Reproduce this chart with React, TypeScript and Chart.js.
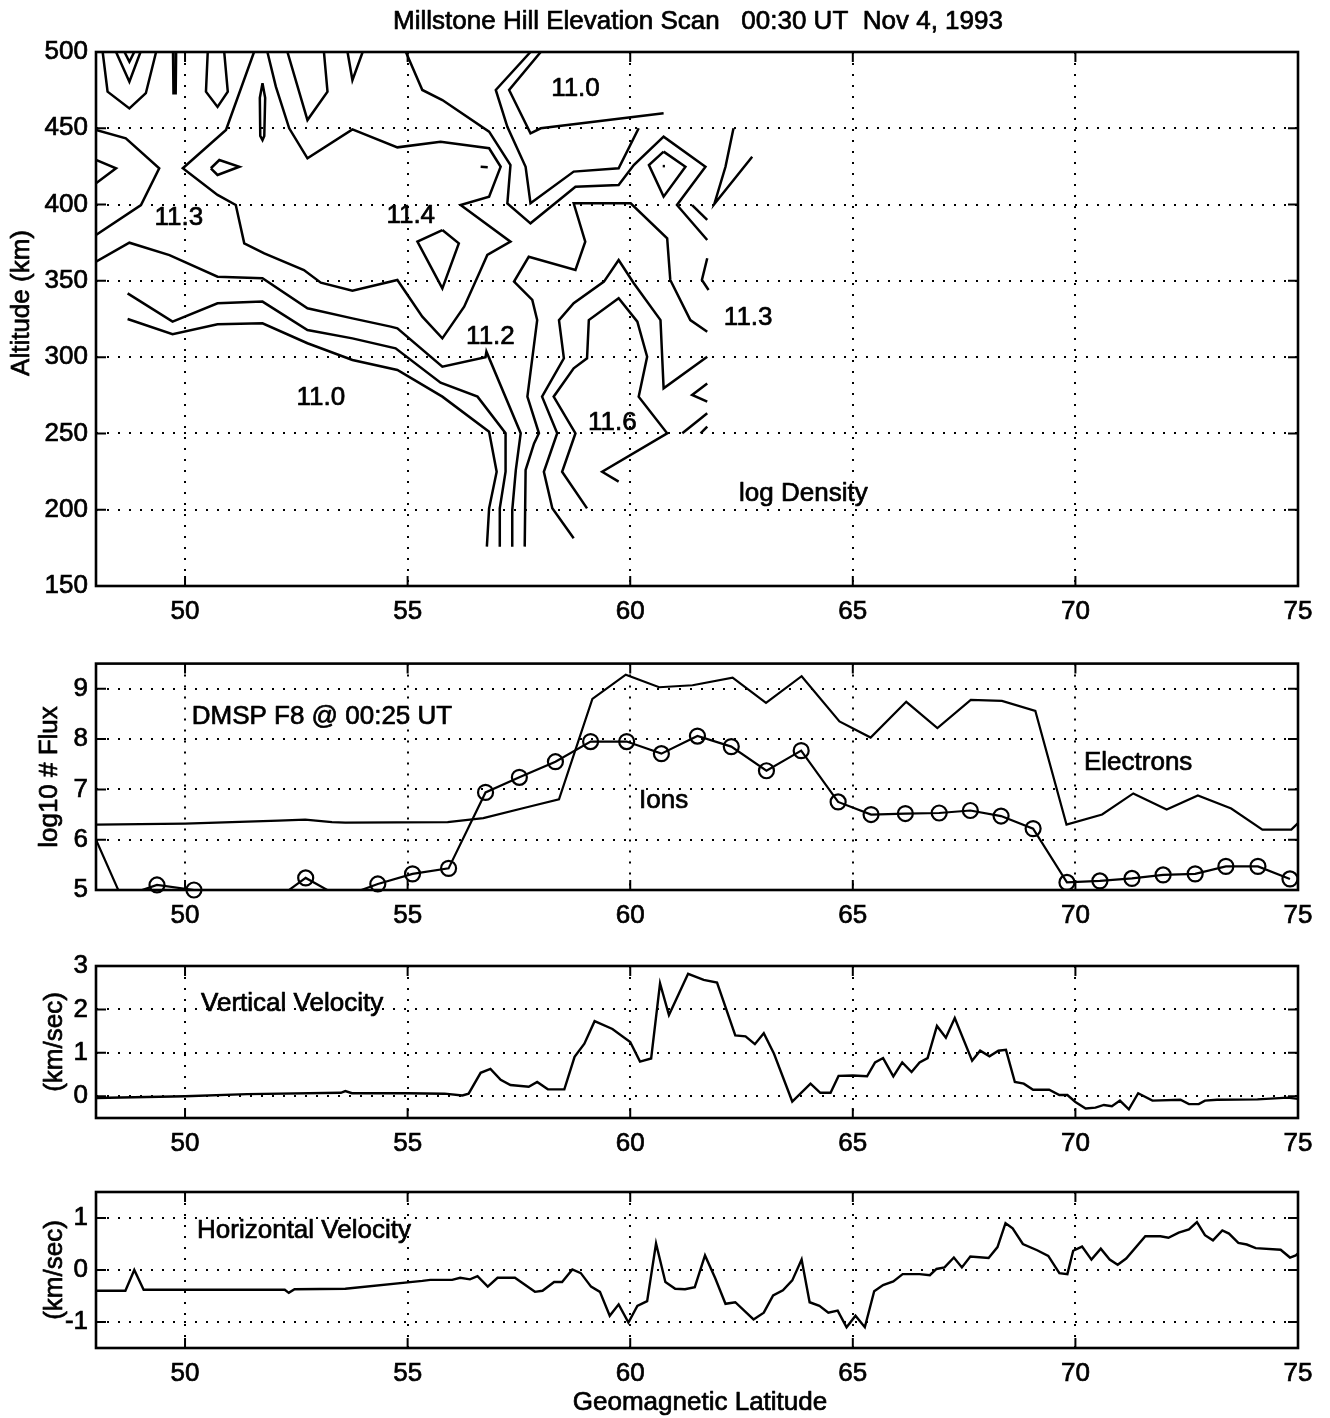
import React, { useEffect, useRef } from "react";
import { Chart, registerables } from "chart.js";

Chart.register(...registerables);

type Pt = [number, number];

// ---------- axes ----------
const LAT_MIN = 48;
const LAT_MAX = 75;
const LAT_TICKS = [50, 55, 60, 65, 70, 75];
const ALT_TICKS = [150, 200, 250, 300, 350, 400, 450, 500];
const FLUX_TICKS = [5, 6, 7, 8, 9];
const VV_TICKS = [0, 1, 2, 3];
const HV_TICKS = [-1, 0, 1];

// ---------- log density contour lines (latitude, altitude km) ----------
const cTopV1: Pt[] = [[48.15, 500], [48.26, 474], [48.75, 463], [49.12, 473], [49.35, 500]];
const cTopV2: Pt[] = [[48.45, 500], [48.75, 480.5], [49.0, 500]];
const cTopV3: Pt[] = [[48.64, 500], [48.75, 493.6], [48.86, 500]];
const cSpike: Pt[] = [[49.73, 500], [49.74, 473], [49.79, 473], [49.8, 500]];
const cTopV4: Pt[] = [[50.51, 500], [50.47, 474], [50.73, 464], [50.96, 474], [50.88, 500]];
const cTopV5: Pt[] = [[52.3, 500], [52.75, 455.4], [53.2, 474.0], [53.12, 500]];
const cTopV6: Pt[] = [[53.65, 500], [53.76, 481.6], [53.99, 500]];
const cThinLoop: Pt[] = [[51.74, 479.5], [51.8, 470], [51.78, 445], [51.74, 442.3], [51.69, 445], [51.68, 470], [51.74, 479.5]];
const cLeftEdge: Pt[] = [[48.0, 448.9], [48.67, 443.4], [49.42, 423.8], [49.01, 399.7], [48.0, 380.1]];
const cLeftNotch: Pt[] = [[48.0, 429.2], [48.45, 423.8], [48.0, 413.9]];
const cDiamondA: Pt[] = [[50.58, 423.8], [50.77, 429.2], [51.22, 424.8], [50.73, 419.4], [50.58, 423.8]];
const cX: Pt[] = [
  [51.55, 500], [50.92, 448.9], [49.95, 423.8], [50.73, 406.3], [51.14, 399.7], [51.33, 374.6],
  [51.78, 368.0], [52.67, 357.1], [53.05, 348.8], [53.76, 343.6], [54.77, 350.6], [55.33, 326.5],
  [55.78, 312.3], [56.27, 333.1], [56.64, 357.1], [56.79, 367.0], [57.31, 375.7], [56.19, 399.7],
  [56.83, 405.2], [57.09, 424.8], [56.83, 436.9], [55.74, 441.2], [54.77, 437.5], [53.76, 449.3],
  [52.75, 430.3], [52.34, 450.0], [52.04, 477.3], [51.85, 500],
];
const cY: Pt[] = [
  [48.0, 362.6], [48.75, 375.0], [49.65, 366.9], [50.73, 352.7], [51.74, 351.7], [52.75, 332.0],
  [53.76, 325.4], [54.62, 320.0], [54.77, 318.9], [55.78, 293.7], [56.75, 299.9], [56.77, 303.6],
  [57.54, 250.1], [57.43, 226.0], [57.35, 199.8], [57.35, 175.8],
];
const cZ: Pt[] = [
  [48.71, 341.8], [49.72, 323.3], [50.73, 335.3], [51.74, 336.4], [52.75, 317.8], [53.76, 312.3],
  [54.73, 305.8], [55.74, 283.3], [56.57, 274.1], [57.2, 250.1], [57.2, 224.9], [57.07, 200.9], [57.07, 175.8],
];
const cW: Pt[] = [
  [48.71, 325.0], [49.72, 315.0], [50.73, 321.5], [51.74, 322.2], [52.75, 309.1], [53.76, 298.1],
  [54.77, 291.6], [55.78, 274.1], [56.83, 251.1], [57.0, 224.9], [56.83, 200.9], [56.78, 175.8],
];
const cV: Pt[] = [
  [57.63, 175.8], [57.65, 226.0], [57.84, 243.5], [57.95, 250.1], [57.69, 274.1], [57.91, 324.3],
  [57.8, 337.5], [57.39, 349.5], [57.72, 365.8], [58.77, 357.1], [58.99, 375.7], [58.73, 400.8],
  [60.01, 400.8], [60.83, 377.9], [60.9, 350.6], [61.35, 324.3], [61.73, 316.7],
];
const cU: Pt[] = [
  [58.73, 181.3], [58.25, 200.9], [58.06, 224.9], [58.36, 250.1], [58.02, 274.1], [58.51, 299.2],
  [58.4, 324.3], [58.73, 335.3], [59.41, 349.5], [59.74, 363.7], [60.08, 348.4], [60.68, 324.3],
  [60.75, 279.6], [61.73, 300.3],
];
const cT: Pt[] = [
  [59.03, 200.9], [58.47, 224.9], [58.77, 250.1], [58.28, 274.1], [58.73, 292.7], [59.03, 299.2],
  [59.07, 324.3], [59.74, 338.6], [60.16, 323.3], [60.38, 300.3], [60.19, 274.1], [60.83, 250.1],
  [59.37, 224.9], [59.74, 218.4],
];
const cB: Pt[] = [
  [54.96, 500], [55.33, 475.1], [55.78, 468.5], [56.83, 447.8], [57.31, 425.9], [57.24, 400.8],
  [57.76, 387.7], [58.77, 411.7], [59.74, 412.8], [60.08, 425.9], [60.75, 444.5], [61.69, 424.8],
  [61.05, 399.7], [61.73, 376.8],
];
const cC: Pt[] = [
  [57.76, 500], [56.98, 475.1], [57.24, 451.0], [57.65, 424.8], [57.76, 400.8], [58.73, 421.6],
  [59.74, 423.8], [60.19, 450.0],
];
const cD: Pt[] = [[57.99, 500], [57.28, 475.1], [57.76, 446.7], [57.99, 450.0], [60.75, 459.8]];
const cDiamondB: Pt[] = [[60.75, 434.7], [61.24, 424.8], [60.75, 405.2], [60.42, 425.9], [60.75, 434.7]];
const cDiamondC: Pt[] = [[55.78, 383.3], [56.15, 374.6], [55.78, 345.1], [55.22, 375.7], [55.78, 383.3]];
const cDot1: Pt[] = [[56.64, 424.8], [56.8, 424.5]];
const cDot2: Pt[] = [[60.73, 425.2], [60.78, 425.2]];
const cFrag1: Pt[] = [[62.32, 450.0], [62.14, 424.8], [61.89, 400.4], [62.74, 431.4]];
const cFrag2: Pt[] = [[61.39, 399.7], [61.73, 389.9]];
const cFrag3: Pt[] = [[61.73, 364.8], [61.61, 350.6], [61.76, 344.0]];
const cFrag4: Pt[] = [[61.73, 282.8], [61.39, 275.2], [61.73, 270.8]];
const cFrag5: Pt[] = [[61.73, 263.2], [61.17, 250.1]];
const cFrag6: Pt[] = [[61.73, 254.4], [61.58, 250.1]];

const CONTOURS: Pt[][] = [
  cTopV1, cTopV2, cTopV3, cSpike, cTopV4, cTopV5, cTopV6, cThinLoop, cLeftEdge, cLeftNotch,
  cDiamondA, cX, cY, cZ, cW, cV, cU, cT, cB, cC, cD, cDiamondB, cDiamondC, cDot1, cDot2,
  cFrag1, cFrag2, cFrag3, cFrag4, cFrag5, cFrag6,
];

const DENSITY_LABELS = ["11.0", "11.3", "11.4", "11.3", "11.2", "11.0", "11.6", "log Density"];
const DENSITY_LABEL_LAT = [58.77, 49.86, 55.07, 62.65, 56.86, 53.05, 59.6, 63.89];
const DENSITY_LABEL_ALT = [475.7, 391.2, 392.5, 325.7, 313.2, 273.2, 256.8, 210.3];

// ---------- DMSP F8 flux ----------
const ELEC_LAT = [
  48, 50, 52.1, 52.7, 53.3, 53.6, 55.9, 56.7, 57.7, 58.4, 59.15, 59.9, 60.65, 61.4, 62.3, 63.05,
  63.85, 64.7, 65.4, 66.2, 66.9, 67.65, 68.35, 69.1, 69.8, 70.6, 71.3, 72.05, 72.75, 73.5, 74.2, 74.85, 75,
];
const ELEC_VAL = [
  6.3, 6.32, 6.38, 6.4, 6.35, 6.34, 6.35, 6.43, 6.65, 6.8, 8.8, 9.28, 9.03, 9.07, 9.22, 8.72,
  9.25, 8.35, 8.03, 8.74, 8.22, 8.78, 8.76, 8.56, 6.3, 6.5, 6.92, 6.6, 6.88, 6.62, 6.2, 6.2, 6.33,
];
const ION_LAT = [
  47.77, 48.57, 49.37, 50.2, 51.04, 51.87, 52.71, 53.5, 54.33, 55.11, 55.92, 56.75, 57.51, 58.32,
  59.11, 59.92, 60.7, 61.51, 62.27, 63.06, 63.84, 64.67, 65.41, 66.18, 66.94, 67.64, 68.33, 69.05,
  69.81, 70.55, 71.27, 71.97, 72.69, 73.38, 74.1, 74.82,
];
const ION_VAL = [
  6.46, 4.86, 5.1, 5.0, 4.5, 4.7, 5.24, 4.85, 5.12, 5.32, 5.43, 6.94, 7.24, 7.55,
  7.95, 7.95, 7.71, 8.06, 7.85, 7.37, 7.77, 6.75, 6.5, 6.52, 6.53, 6.58, 6.47, 6.22,
  5.15, 5.18, 5.23, 5.3, 5.32, 5.47, 5.47, 5.22,
];

// ---------- vertical velocity (km/s) ----------
const VV_LAT = [
  48, 50, 51.4, 53.5, 53.6, 53.75, 55, 55.83, 56.23, 56.37, 56.64, 56.86, 57.09, 57.31, 57.72, 57.91,
  58.15, 58.52, 58.75, 58.97, 59.2, 59.6, 60, 60.22, 60.47, 60.67, 60.87, 61.3, 61.65, 61.95, 62.36,
  62.59, 62.8, 63, 63.23, 63.64, 64.05, 64.27, 64.5, 64.68, 65, 65.32, 65.5, 65.68, 65.91, 66.11,
  66.32, 66.5, 66.68, 66.89, 67.09, 67.29, 67.68, 67.86, 68.07, 68.27, 68.44, 68.64, 68.84, 69.05,
  69.41, 69.64, 69.82, 70, 70.23, 70.45, 70.64, 70.82, 71, 71.2, 71.41, 71.73, 72.36, 72.55, 72.77,
  72.91, 73.18, 74.09, 74.77, 75.09,
];
const VV_VAL = [
  -0.04, 0, 0.05, 0.08, 0.12, 0.07, 0.07, 0.06, 0.02, 0.06, 0.54, 0.63, 0.38, 0.26, 0.22, 0.33,
  0.16, 0.16, 0.91, 1.21, 1.73, 1.55, 1.25, 0.8, 0.87, 2.6, 1.87, 2.82, 2.68, 2.62, 1.4,
  1.38, 1.2, 1.45, 0.98, -0.12, 0.29, 0.08, 0.08, 0.47, 0.48, 0.46, 0.78, 0.88, 0.46, 0.78,
  0.56, 0.78, 0.88, 1.62, 1.35, 1.8, 0.82, 1.05, 0.92, 1.05, 1.07, 0.33, 0.29, 0.15,
  0.15, 0.03, 0.03, -0.13, -0.28, -0.26, -0.2, -0.23, -0.1, -0.3, 0.07, -0.1, -0.08, -0.18, -0.18,
  -0.1, -0.08, -0.07, -0.03, -0.07,
];

// ---------- horizontal velocity (km/s) ----------
const HV_LAT = [
  48, 48.66, 48.86, 49.07, 50, 52.24, 52.33, 52.46, 53.6, 55.33, 55.51, 56, 56.18, 56.4, 56.57, 56.8,
  57.02, 57.41, 57.86, 58.03, 58.29, 58.47, 58.7, 58.89, 59.12, 59.32, 59.54, 59.74, 59.96, 60.16,
  60.38, 60.58, 60.79, 61.01, 61.23, 61.45, 61.68, 61.91, 62.14, 62.36, 62.77, 63, 63.21, 63.43,
  63.64, 63.85, 64.03, 64.25, 64.45, 64.66, 64.86, 65.06, 65.27, 65.48, 65.68, 65.91, 66.12, 66.5,
  66.73, 66.88, 67.06, 67.27, 67.45, 67.64, 68.05, 68.25, 68.43, 68.59, 68.82, 69.14, 69.39, 69.64,
  69.82, 69.95, 70.15, 70.36, 70.57, 70.77, 70.95, 71.14, 71.57, 71.91, 72.09, 72.32, 72.55, 72.73,
  72.91, 73.09, 73.3, 73.45, 73.66, 73.85, 74.05, 74.61, 74.82, 74.95, 75.09,
];
const HV_VAL = [
  -0.4, -0.4, 0, -0.38, -0.38, -0.38, -0.44, -0.37, -0.36, -0.21, -0.19, -0.19, -0.15, -0.18, -0.12, -0.32,
  -0.15, -0.15, -0.42, -0.4, -0.23, -0.23, 0.01, -0.06, -0.32, -0.42, -0.88, -0.66, -1.01, -0.69,
  -0.6, 0.51, -0.23, -0.36, -0.37, -0.33, 0.28, -0.16, -0.65, -0.62, -0.95, -0.82, -0.49, -0.39,
  -0.2, 0.2, -0.62, -0.69, -0.82, -0.78, -1.1, -0.88, -1.1, -0.41, -0.29, -0.22, -0.08, -0.08,
  -0.1, 0.02, 0.05, 0.24, 0.05, 0.26, 0.23, 0.44, 0.9, 0.8, 0.5, 0.38, 0.27, -0.06,
  -0.08, 0.37, 0.45, 0.2, 0.41, 0.2, 0.1, 0.22, 0.65, 0.65, 0.62, 0.72, 0.78, 0.92,
  0.67, 0.57, 0.76, 0.7, 0.52, 0.49, 0.42, 0.39, 0.24, 0.28, 0.39,
];

// ---------- layout ----------
const W = 1330;
const PLOT_LEFT = 96;
const PLOT_RIGHT = 1298;
const FONT = "'Liberation Sans', Arial, Helvetica, sans-serif";
const TEXT_SIZE = 26;
const TEXT_STROKE = 0.7;

interface Txt {
  text: string;
  x: number;
  y: number;
  data?: boolean;
  align?: CanvasTextAlign;
  rotate?: boolean;
  size?: number;
}

function overlay(items: Txt[], cTop: number) {
  return {
    id: "overlay",
    afterDatasetsDraw(chart: any) {
      const { ctx, chartArea: a, scales } = chart;
      const xs = scales.x;
      const ys = scales.y;
      ctx.save();
      ctx.strokeStyle = "#000";
      ctx.setLineDash([]);
      ctx.lineWidth = 2;
      ctx.beginPath();
      for (const t of xs.ticks) {
        const p = xs.getPixelForValue(t.value);
        ctx.moveTo(p, a.bottom);
        ctx.lineTo(p, a.bottom - 10);
        ctx.moveTo(p, a.top);
        ctx.lineTo(p, a.top + 10);
      }
      for (const t of ys.ticks) {
        const p = ys.getPixelForValue(t.value);
        ctx.moveTo(a.left, p);
        ctx.lineTo(a.left + 10, p);
        ctx.moveTo(a.right, p);
        ctx.lineTo(a.right - 10, p);
      }
      ctx.stroke();
      ctx.lineWidth = 2.6;
      ctx.strokeRect(a.left, a.top, a.right - a.left, a.bottom - a.top);
      ctx.fillStyle = "#000";
      ctx.lineWidth = TEXT_STROKE;
      ctx.lineJoin = "round";
      for (const it of items) {
        const px = it.data ? xs.getPixelForValue(it.x) : it.x;
        const py = it.data ? ys.getPixelForValue(it.y) : it.y - cTop;
        ctx.font = `${it.size ?? TEXT_SIZE}px ${FONT}`;
        ctx.textAlign = it.align ?? "center";
        ctx.textBaseline = "middle";
        if (it.rotate) {
          ctx.save();
          ctx.translate(px, py);
          ctx.rotate(-Math.PI / 2);
          ctx.fillText(it.text, 0, 0);
          ctx.strokeText(it.text, 0, 0);
          ctx.restore();
        } else {
          ctx.fillText(it.text, px, py);
          ctx.strokeText(it.text, px, py);
        }
      }
      ctx.restore();
    },
  };
}

function lineDs(data: Pt[], width = 2.4) {
  return {
    data: data.map(([x, y]) => ({ x, y })),
    showLine: true,
    borderColor: "#000",
    backgroundColor: "#000",
    borderWidth: width,
    pointRadius: 0,
    tension: 0,
    fill: false,
  };
}

function zip(xs: number[], ys: number[]): Pt[] {
  return xs.map((x, i) => [x, ys[i]] as Pt);
}

interface Spec {
  cTop: number;
  cH: number;
  pTop: number;
  pBottom: number;
  yMin: number;
  yMax: number;
  yTicks: number[];
  datasets: any[];
  texts: Txt[];
}

function makeChart(canvas: HTMLCanvasElement, s: Spec) {
  const gridOpts = { color: "#000", lineWidth: 2, drawTicks: false };
  const borderOpts = { display: false, dash: [2, 9] };
  const tickFont = { family: FONT, size: TEXT_SIZE };
  const tickBase = {
    color: "#000",
    font: tickFont,
    textStrokeColor: "#000",
    textStrokeWidth: TEXT_STROKE,
    autoSkip: false,
  };
  return new Chart(canvas, {
    type: "scatter",
    data: { datasets: s.datasets },
    options: {
      animation: false,
      responsive: false,
      devicePixelRatio: 1,
      events: [],
      layout: { padding: { left: 0, right: W - PLOT_RIGHT, top: s.pTop - s.cTop, bottom: 0 } },
      plugins: { legend: { display: false }, tooltip: { enabled: false }, title: { display: false } },
      scales: {
        x: {
          type: "linear",
          min: LAT_MIN,
          max: LAT_MAX,
          afterBuildTicks: (sc: any) => {
            sc.ticks = LAT_TICKS.map((v) => ({ value: v }));
          },
          afterFit: (sc: any) => {
            sc.height = s.cH - (s.pBottom - s.cTop);
          },
          grid: gridOpts,
          border: borderOpts,
          ticks: { ...tickBase, padding: 10, maxRotation: 0 },
        },
        y: {
          type: "linear",
          min: s.yMin,
          max: s.yMax,
          afterBuildTicks: (sc: any) => {
            sc.ticks = s.yTicks.map((v) => ({ value: v }));
          },
          afterFit: (sc: any) => {
            sc.width = PLOT_LEFT;
          },
          grid: gridOpts,
          border: borderOpts,
          ticks: { ...tickBase, padding: 8 },
        },
      },
    } as any,
    plugins: [overlay(s.texts, s.cTop) as any],
  });
}

const PANELS = [
  { cTop: 0, cH: 640, pTop: 52, pBottom: 586 },
  { cTop: 640, cH: 290, pTop: 661, pBottom: 890 },
  { cTop: 930, cH: 230, pTop: 966, pBottom: 1118 },
  { cTop: 1160, cH: 258, pTop: 1192, pBottom: 1348 },
];

export default function App() {
  const r0 = useRef<HTMLCanvasElement>(null);
  const r1 = useRef<HTMLCanvasElement>(null);
  const r2 = useRef<HTMLCanvasElement>(null);
  const r3 = useRef<HTMLCanvasElement>(null);

  useEffect(() => {
    const charts: Chart[] = [];

    const densityTexts: Txt[] = DENSITY_LABELS.map((t, i) => ({
      text: t,
      x: DENSITY_LABEL_LAT[i],
      y: DENSITY_LABEL_ALT[i],
      data: true,
    }));
    charts.push(
      makeChart(r0.current!, {
        ...PANELS[0],
        yMin: 150,
        yMax: 500,
        yTicks: ALT_TICKS,
        datasets: CONTOURS.map((c) => lineDs(c, 2.5)),
        texts: [
          { text: "Millstone Hill Elevation Scan   00:30 UT  Nov 4, 1993", x: 698, y: 22 },
          { text: "Altitude (km)", x: 22, y: 303, rotate: true },
          ...densityTexts,
        ],
      })
    );

    const ionPts = zip(ION_LAT, ION_VAL);
    charts.push(
      makeChart(r1.current!, {
        ...PANELS[1],
        yMin: 5,
        yMax: 9.5,
        yTicks: FLUX_TICKS,
        datasets: [
          { ...lineDs(zip(ELEC_LAT, ELEC_VAL), 2.2), clip: 0 },
          { ...lineDs(ionPts, 2.2), clip: 0 },
          {
            data: ionPts.map(([x, y]) => ({ x, y })),
            showLine: false,
            clip: false,
            pointStyle: "circle",
            pointRadius: ionPts.map(([x, y]) => (x < LAT_MIN || y < 4.97 ? 0 : 7.5)),
            pointBorderWidth: 2.2,
            pointBorderColor: "#000",
            pointBackgroundColor: "rgba(0,0,0,0)",
          },
        ],
        texts: [
          { text: "log10 # Flux", x: 50, y: 777, rotate: true },
          { text: "DMSP F8 @ 00:25 UT", x: 50.15, y: 8.45, data: true, align: "left" },
          { text: "Ions", x: 60.75, y: 6.78, data: true },
          { text: "Electrons", x: 71.41, y: 7.53, data: true },
        ],
      })
    );

    charts.push(
      makeChart(r2.current!, {
        ...PANELS[2],
        yMin: -0.5,
        yMax: 3,
        yTicks: VV_TICKS,
        datasets: [{ ...lineDs(zip(VV_LAT, VV_VAL), 2.4), clip: 0 }],
        texts: [
          { text: "(km/sec)", x: 55, y: 1042, rotate: true },
          { text: "Vertical Velocity", x: 50.36, y: 2.14, data: true, align: "left" },
        ],
      })
    );

    charts.push(
      makeChart(r3.current!, {
        ...PANELS[3],
        yMin: -1.5,
        yMax: 1.5,
        yTicks: HV_TICKS,
        datasets: [{ ...lineDs(zip(HV_LAT, HV_VAL), 2.4), clip: 0 }],
        texts: [
          { text: "(km/sec)", x: 55, y: 1270, rotate: true },
          { text: "Horizontal Velocity", x: 50.27, y: 0.75, data: true, align: "left" },
          { text: "Geomagnetic Latitude", x: 700, y: 1403 },
        ],
      })
    );

    return () => {
      charts.forEach((c) => c.destroy());
    };
  }, []);

  const refs = [r0, r1, r2, r3];
  return (
    <div style={{ position: "absolute", left: 0, top: 0, width: W, height: 1418, background: "#fff" }}>
      {PANELS.map((p, i) => (
        <canvas
          key={i}
          ref={refs[i]}
          width={W}
          height={p.cH}
          style={{ position: "absolute", left: 0, top: p.cTop, width: W, height: p.cH, display: "block" }}
        />
      ))}
    </div>
  );
}
